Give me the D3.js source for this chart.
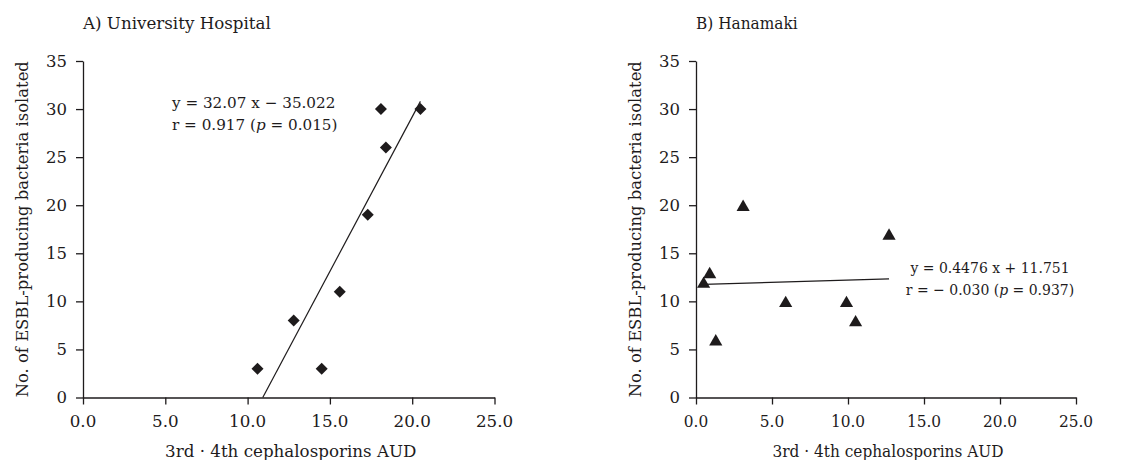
<!DOCTYPE html>
<html>
<head>
<meta charset="utf-8">
<script src="https://cdn.jsdelivr.net/npm/d3@7.9.0/dist/d3.min.js"></script>
<style>
  body { margin: 0; background: #fff; }
  svg { display: block; }
  text { font-family: "DejaVu Serif", serif; fill: #1e1b1c; }
</style>
</head>
<body>
<script>
// Panel A: University Hospital
const hospitalAUD = [10.6, 12.8, 14.5, 15.6, 17.3, 18.1, 18.4, 20.5];
const hospitalESBL = [3, 8, 3, 11, 19, 30, 26, 30];

// Panel B: Hanamaki
const hanamakiAUD = [0.5, 0.9, 1.3, 3.1, 5.9, 9.9, 10.5, 12.7];
const hanamakiESBL = [12, 13, 6, 20, 10, 10, 8, 17];

const xTicks = [0, 5, 10, 15, 20, 25];
const yTicks = [0, 5, 10, 15, 20, 25, 30, 35];
const panelTitles = ["A) University Hospital", "B) Hanamaki"];
const xLabel = "3rd \u00b7 4th cephalosporins AUD";
const yLabel = "No. of ESBL-producing bacteria isolated";

// equation text, [text, italic?] segments per line
const hospitalEquation = [
    [["y = 32.07 x \u2212 35.022", false]],
    [["r = 0.917 (", false], ["p", true], [" = 0.015)", false]]
];
const hanamakiEquation = [
    [["y = 0.4476 x + 11.751", false]],
    [["r = \u2212 0.030 (", false], ["p", true], [" = 0.937)", false]]
];

const width = 1143, height = 460;
const svg = d3.select("body").append("svg")
    .attr("width", width)
    .attr("height", height);

// least squares fit
function fitLine(xs, ys) {
    const mx = d3.mean(xs), my = d3.mean(ys);
    let sxy = 0, sxx = 0;
    xs.forEach((x, i) => { sxy += (x - mx) * (ys[i] - my); sxx += (x - mx) * (x - mx); });
    const slope = sxy / sxx;
    return { slope, intercept: my - slope * mx };
}

// horizontal text, optionally squeezed a bit (panel B is narrower in the original)
function hText(g, x, y, str, anchor, sx, size) {
    return g.append("text")
        .attr("transform", `translate(${x},${y}) scale(${sx},1)`)
        .attr("text-anchor", anchor)
        .style("font-size", size + "px")
        .text(str);
}

function drawPanel(opts) {
    const { xs, ys, left, right, title, equation, eqX, eqY, eqAnchor, marker, sx } = opts;
    const top = 61, bottom = 397.5;

    const x = d3.scaleLinear().domain([0, 25]).range([left, right]);
    const y = d3.scaleLinear().domain([0, 35]).range([bottom, top]);

    const g = svg.append("g");

    // title
    hText(g, left, 29, title, "start", sx, 16.7);

    // y axis
    const yAxis = g.append("g")
        .attr("transform", `translate(${left},0)`)
        .call(d3.axisLeft(y).tickValues(yTicks).tickSize(7).tickSizeOuter(0).tickPadding(9));
    yAxis.selectAll("text").style("font-size", "16.5px").style("font-family", "DejaVu Serif, serif").attr("fill", "#1e1b1c");

    // x axis (labels drawn separately so panel B can be squeezed)
    const xAxis = g.append("g")
        .attr("transform", `translate(0,${bottom})`)
        .call(d3.axisBottom(x).tickValues(xTicks).tickSize(7).tickSizeOuter(0));
    xAxis.selectAll("text").remove();
    xTicks.forEach(t => {
        hText(g, x(t), bottom + 29.5, d3.format(".1f")(t), "middle", sx, 16.7);
    });

    g.selectAll(".domain, .tick line").attr("stroke", "#1e1b1c").attr("stroke-width", 1.3);

    // axis labels
    hText(g, (left + right) / 2 + 2, 457, xLabel, "middle", sx, 16.7);
    g.append("text")
        .attr("transform", `translate(${left - 55},${(top + bottom) / 2}) rotate(-90)`)
        .attr("text-anchor", "middle")
        .style("font-size", "16.4px")
        .text(yLabel);

    // regression line
    const fit = fitLine(xs, ys);
    const xStart = Math.max(d3.min(xs), -fit.intercept / fit.slope);
    const xEnd = d3.max(xs);
    g.append("line")
        .attr("x1", x(xStart))
        .attr("y1", y(fit.slope * xStart + fit.intercept))
        .attr("x2", x(xEnd))
        .attr("y2", y(fit.slope * xEnd + fit.intercept))
        .attr("stroke", "#1e1b1c")
        .attr("stroke-width", 1.2);

    // points
    const sym = marker === "diamond"
        ? d3.symbol().type(d3.symbolSquare).size(72)
        : d3.symbol().type(d3.symbolTriangle).size(75);
    g.selectAll("path.pt")
        .data(xs.map((v, i) => [v, ys[i]]))
        .enter().append("path")
        .attr("class", "pt")
        .attr("d", sym)
        .attr("fill", "#1e1b1c")
        .attr("transform", d => marker === "diamond"
            ? `translate(${x(d[0])},${y(d[1])}) rotate(45)`
            : `translate(${x(d[0])},${y(d[1]) + 1.9})`);

    // equation
    equation.forEach((line, i) => {
        const t = g.append("text")
            .attr("transform", `translate(${eqX},${eqY + i * 22}) scale(${sx},1)`)
            .attr("text-anchor", eqAnchor)
            .style("font-size", "15.2px");
        line.forEach(seg => {
            t.append("tspan").style("font-style", seg[1] ? "italic" : "normal").text(seg[0]);
        });
    });
}

drawPanel({
    xs: hospitalAUD, ys: hospitalESBL,
    left: 83, right: 494.5,
    title: panelTitles[0],
    equation: hospitalEquation,
    eqX: 172, eqY: 108, eqAnchor: "start",
    marker: "diamond", sx: 1
});

drawPanel({
    xs: hanamakiAUD, ys: hanamakiESBL,
    left: 696, right: 1076,
    title: panelTitles[1],
    equation: hanamakiEquation,
    eqX: 990, eqY: 273, eqAnchor: "middle",
    marker: "triangle", sx: 0.92
});
</script>
</body>
</html>
